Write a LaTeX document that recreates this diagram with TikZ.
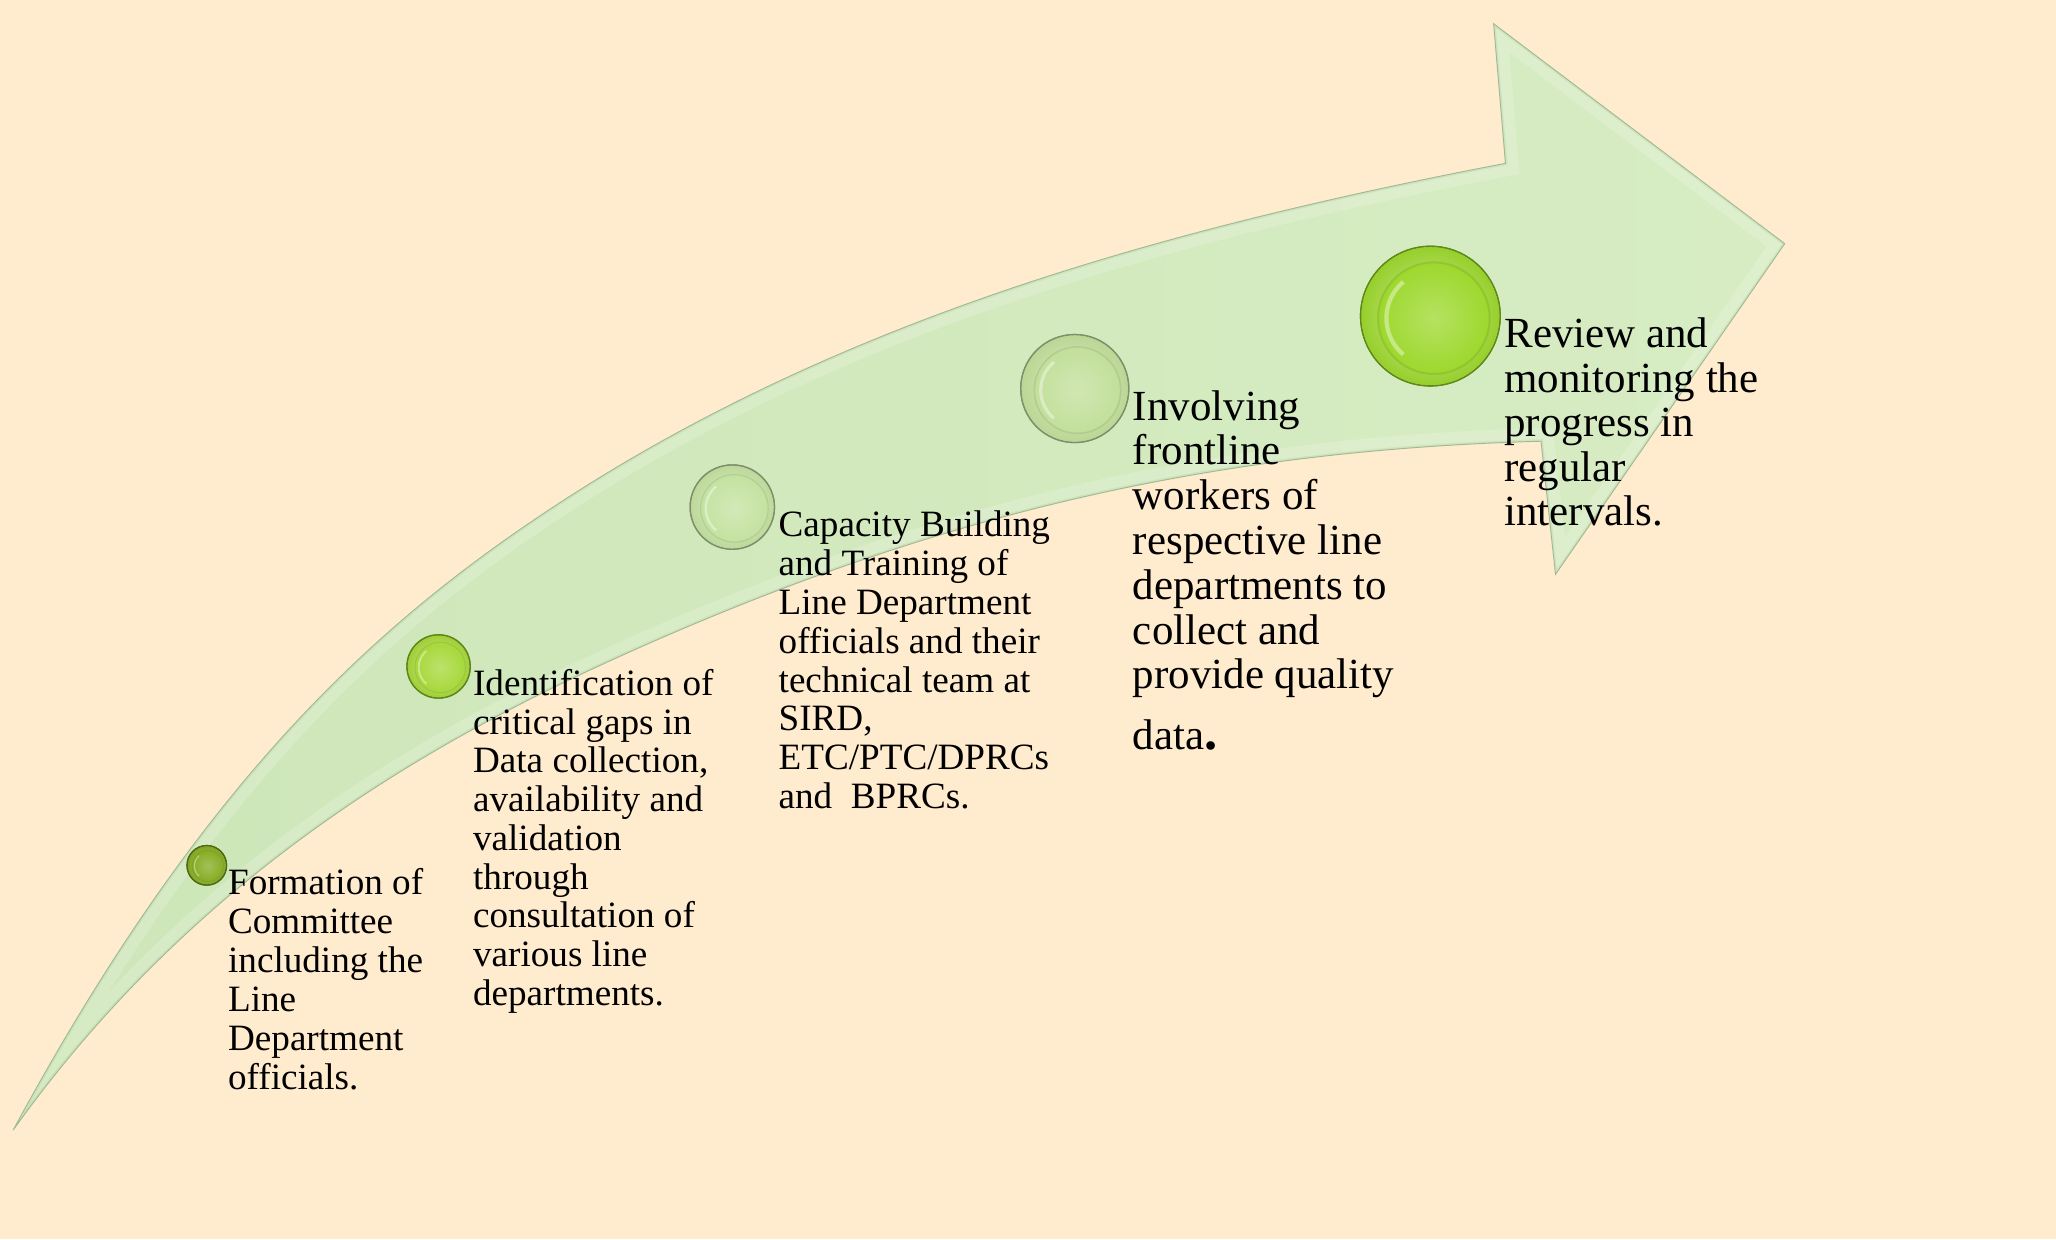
\documentclass[tikz,border=0pt]{standalone}
\usepackage{fontspec}
\setmainfont{Liberation Serif}
\definecolor{bg}{HTML}{FFEBCD}
\definecolor{arrowA}{HTML}{CDE6B8}
\definecolor{arrowB}{HTML}{D7ECC3}
\definecolor{arrowedge}{HTML}{9FBA92}
\definecolor{bOne}{HTML}{86AC22}
\definecolor{bOneD}{HTML}{4E6A0E}
\definecolor{bTwo}{HTML}{A6D83A}
\definecolor{bTwoD}{HTML}{5F8716}
\definecolor{bThree}{HTML}{C4E2A0}
\definecolor{bThreeD}{HTML}{808F6A}
\definecolor{bFour}{HTML}{C2DF9A}
\definecolor{bFourD}{HTML}{808F6A}
\definecolor{bFive}{HTML}{9DD82D}
\definecolor{bFiveD}{HTML}{5F8A16}
\newcommand\arrowp[1]{\path[#1] (10,858) .. controls (150,599) and (280,477) .. (420,385) .. controls (640,240) and (893,172) .. (1143,124) -- (1134,18) -- (1355,185) -- (1181,436) -- (1170,335) .. controls (920,342) and (706,390) .. (456,505) .. controls (306,574) and (140,676) .. (10,858) -- cycle;}
\newcommand\mybtn[6]{%
  \node[btn, minimum size=2*#4, draw=#6] (#1) at (#2,#3) {};
  \shade[inner color=#5!45!white, outer color=#5!96!black] (#1.center) circle[radius=#4-0.6];
  \shade[inner color=#5!75!white, outer color=#5] ([shift={(0.05*#4,0.03*#4)}]#1.center) circle[radius=0.80*#4];
  \draw[white, opacity=0.4, line width=0.06*#4] ([shift={(0.05*#4,0.03*#4)}]#1.center) ++(130:0.68*#4) arc[start angle=130, end angle=230, radius=0.68*#4];
  \draw[#5!70!black, opacity=0.25, line width=0.03*#4] ([shift={(0.05*#4,0.03*#4)}]#1.center) circle[radius=0.80*#4];
  \draw[#6, line width=1pt] (#1.center) circle[radius=#4];
}
\tikzset{
  btn/.style={circle, inner sep=0pt, line width=1pt},
  txt/.style={anchor=base west, inner sep=0pt, text=black},
}
\begin{document}
\begin{tikzpicture}[x=1pt, y=-1pt]
\useasboundingbox (0,0) rectangle (1561,941);
\fill[bg] (0,0) rectangle (1561,941);
% arrow body
\arrowp{left color=arrowA, right color=arrowB}
\begin{scope}
  \arrowp{clip}
  \arrowp{draw=white, opacity=0.18, line width=20pt}
  \arrowp{draw=arrowedge, opacity=0.2, line width=3pt}
\end{scope}
\arrowp{draw=arrowedge, line width=0.7pt}
% bubbles
\mybtn{b1}{157}{657}{15}{bOne}{bOneD}
\mybtn{b2}{333}{506}{24}{bTwo}{bTwoD}
\mybtn{b3}{556}{385}{32}{bThree}{bThreeD}
\mybtn{b4}{816}{295}{41}{bFour}{bFourD}
\mybtn{b5}{1086}{240}{53}{bFive}{bFiveD}
% texts
\node[txt] (t1) at (173,679) {\parbox[t]{300pt}{\raggedright\fontsize{28.2}{29.7}\selectfont Formation of\\Committee\\including the\\Line\\Department\\officials.}};
\node[txt] (t2) at (359,528) {\parbox[t]{300pt}{\raggedright\fontsize{28.2}{29.4}\selectfont Identification of\\critical gaps in\\Data collection,\\availability and\\validation\\through\\consultation of\\various line\\departments.}};
\node[txt] (t3) at (591,407) {\parbox[t]{300pt}{\raggedright\fontsize{28.2}{29.6}\selectfont Capacity Building\\and Training of\\Line Department\\officials and their\\technical team at\\SIRD,\\ETC/PTC/DPRCs\\and~ BPRCs.}};
\node[txt] (t4) at (860,319) {\parbox[t]{300pt}{\raggedright\fontsize{32.6}{34}\selectfont Involving\\frontline\\workers of\\respective line\\departments to\\collect and\\provide quality\\[12pt]data\textbf{\fontsize{40}{34}\selectfont .}}};
\node[txt] (t5) at (1142,264) {\parbox[t]{300pt}{\raggedright\fontsize{32.6}{33.8}\selectfont Review and\\monitoring the\\progress in\\regular\\intervals.}};
\end{tikzpicture}
\end{document}
